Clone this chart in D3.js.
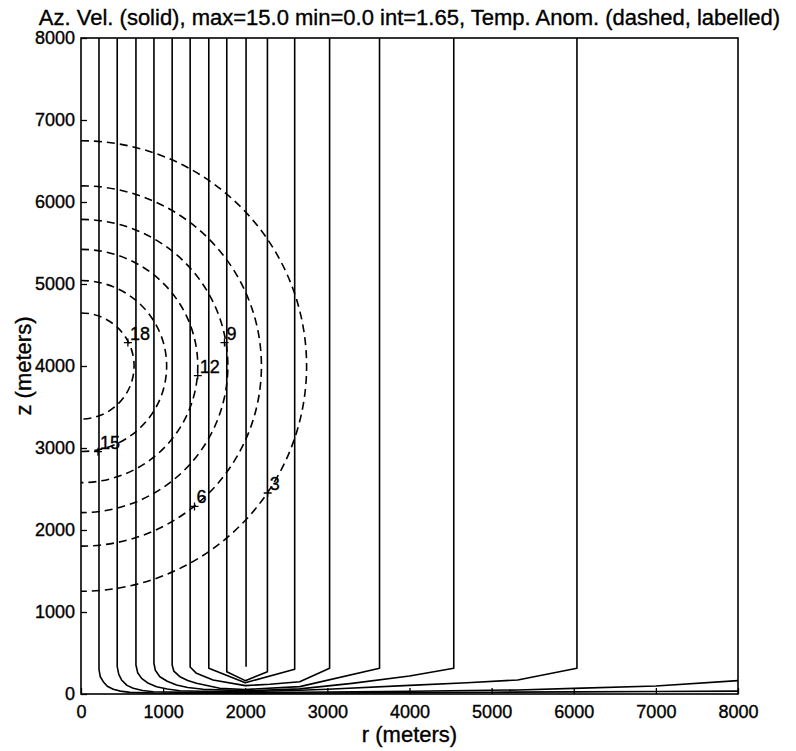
<!DOCTYPE html>
<html>
<head>
<meta charset="utf-8">
<script src="https://cdn.jsdelivr.net/npm/d3@7"></script>
<style>
  body { margin: 0; background: #fff; }
  svg { display: block; font-family: "Liberation Sans", Arial, Helvetica, sans-serif; }
  svg text { fill: #000; stroke: #000; stroke-width: 0.35px; }
</style>
</head>
<body>
<svg id="chart" width="796" height="751"></svg>
<script>
// axis ticks
const xTicks = [0, 1000, 2000, 3000, 4000, 5000, 6000, 7000, 8000];
const yTicks = [0, 1000, 2000, 3000, 4000, 5000, 6000, 7000, 8000];

// azimuthal velocity contours (solid), each a polyline of [r, z]
const velLevels = [1.65, 3.3, 4.95, 6.6, 8.25, 9.9, 11.55, 13.2, 14.85];
const vel1 = [[219, 8000], [219, 300], [235, 210], [271, 150], [320, 95], [393, 57], [480, 35], [596, 20],
  [900, 12], [1400, 10], [2000, 10], [3000, 13], [4000, 17], [5000, 22], [6000, 26], [7000, 30], [8000, 35]];
const vel2 = [[441, 8000], [441, 333], [460, 240], [494, 171], [560, 105], [636, 69], [750, 42], [880, 28],
  [1300, 20], [2000, 18], [3000, 24], [4000, 33], [5317, 49], [6000, 68], [7000, 98], [8000, 163]];
const vel3 = [[669, 8000], [669, 354], [690, 260], [738, 191], [820, 130], [920, 89], [1050, 60], [1204, 40],
  [1600, 30], [2000, 28], [2663, 45], [3000, 58], [4000, 105], [4700, 138], [5317, 171], [6039, 315], [6039, 8000]];
const vel4 = [[888, 8000], [888, 375], [905, 290], [960, 211], [1050, 155], [1163, 110], [1300, 80], [1487, 57],
  [2000, 40], [2663, 62], [3300, 130], [4000, 220], [4539, 313], [4539, 8000]];
const vel5 = [[1110, 8000], [1110, 354], [1130, 280], [1204, 211], [1300, 165], [1406, 130], [1690, 69],
  [2000, 55], [2663, 90], [3635, 313], [3635, 8000]];
const vel6 = [[1329, 8000], [1329, 330], [1406, 252], [1608, 171], [2000, 102], [2300, 118], [2663, 150],
  [3027, 313], [3027, 8000]];
const vel7 = [[1556, 8000], [1556, 313], [2000, 138], [2602, 301], [2602, 8000]];
const vel8 = [[1775, 8000], [1775, 272], [2000, 163], [2270, 272], [2270, 8000]];
const vel9 = [[2010, 8000], [2010, 333]];
const velLines = [vel1, vel2, vel3, vel4, vel5, vel6, vel7, vel8, vel9];

// temperature anomaly contours (dashed): circles about the axis point below
const tempLevels = [3, 6, 9, 12, 15, 18];
const tempCenter = [0, 4000];
const tempRadii = [2747, 2197, 1788, 1422, 1043, 647];
// where each contour label ("+" mark) sits, [r, z]
const tempLabelPts = [[2273, 2451], [1382, 2287], [1747, 4286], [1422, 3883], [207, 2955], [571, 4286]];

const svg = d3.select('#chart');
const margin = { top: 38, right: 58, bottom: 57, left: 81 };
const W = 796 - margin.left - margin.right;
const H = 751 - margin.top - margin.bottom;

const x = d3.scaleLinear().domain([0, 8000]).range([0, W]);
const y = d3.scaleLinear().domain([0, 8000]).range([H, 0]);

const g = svg.append('g').attr('transform', `translate(${margin.left},${margin.top})`);

g.append('clipPath').attr('id', 'plot-clip')
  .append('rect').attr('width', W).attr('height', H);

const plot = g.append('g').attr('clip-path', 'url(#plot-clip)');

// solid contours
const line = d3.line().x((d) => x(d[0])).y((d) => y(d[1]));
plot.append('g').attr('class', 'vel')
  .selectAll('path')
  .data(velLines)
  .join('path')
  .attr('d', line)
  .attr('fill', 'none')
  .attr('stroke', '#000')
  .attr('stroke-width', 1.6)
  .attr('stroke-linejoin', 'round');

// dashed contours: half ellipses in pixel space (the two scales differ slightly)
plot.append('g').attr('class', 'temp')
  .selectAll('path')
  .data(tempRadii)
  .join('path')
  .attr('d', (R) => {
    const rx = x(R) - x(0);
    const ry = y(0) - y(R);
    return `M${x(tempCenter[0])},${y(tempCenter[1] + R)}` +
      `A${rx},${ry} 0 0 1 ${x(tempCenter[0])},${y(tempCenter[1] - R)}`;
  })
  .attr('fill', 'none')
  .attr('stroke', '#000')
  .attr('stroke-width', 1.6)
  .attr('stroke-dasharray', '8,5');

// contour labels: "+" at the point, value up and to the right
const labels = g.append('g').attr('class', 'temp-labels')
  .selectAll('g')
  .data(tempLevels.map((v, i) => ({ v, p: tempLabelPts[i] })))
  .join('g')
  .attr('transform', (d) => `translate(${x(d.p[0])},${y(d.p[1])})`);
labels.append('path')
  .attr('d', 'M-4,0H4M0,-4V4')
  .attr('stroke', '#000')
  .attr('stroke-width', 1.3);
labels.append('text')
  .attr('x', 2)
  .attr('y', -3)
  .attr('font-size', 18)
  .text((d) => d.v);

// axes, ticks pointing inward
const xAxis = g.append('g')
  .attr('transform', `translate(0,${H})`)
  .call(d3.axisBottom(x).tickValues(xTicks).tickSize(-6).tickPadding(11).tickFormat(d3.format('d')));
const yAxis = g.append('g')
  .call(d3.axisLeft(y).tickValues(yTicks).tickSize(-6).tickPadding(6).tickFormat(d3.format('d')));
[xAxis, yAxis].forEach((a) => {
  a.select('.domain').remove();
  a.selectAll('line').attr('stroke', '#000').attr('stroke-width', 1.3);
  a.selectAll('text').attr('font-size', 18).attr('fill', '#000')
    .attr('font-family', '"Liberation Sans", Arial, sans-serif');
});

// frame
g.append('rect')
  .attr('width', W).attr('height', H)
  .attr('fill', 'none').attr('stroke', '#000').attr('stroke-width', 1.6);

// title and axis labels
svg.append('text')
  .attr('x', margin.left + W / 2).attr('y', 25)
  .attr('text-anchor', 'middle').attr('font-size', 22)
  .text('Az. Vel. (solid), max=15.0 min=0.0 int=1.65, Temp. Anom. (dashed, labelled)');
svg.append('text')
  .attr('x', margin.left + W / 2).attr('y', 742)
  .attr('text-anchor', 'middle').attr('font-size', 22)
  .text('r (meters)');
svg.append('text')
  .attr('transform', `translate(31,${margin.top + H / 2}) rotate(-90)`)
  .attr('text-anchor', 'middle').attr('font-size', 22)
  .text('z (meters)');
</script>
</body>
</html>
